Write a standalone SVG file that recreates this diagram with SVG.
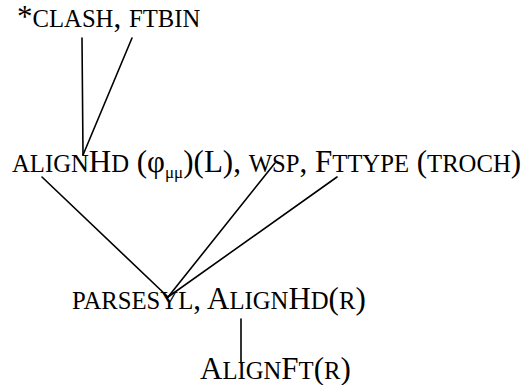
<svg xmlns="http://www.w3.org/2000/svg" width="528" height="385" viewBox="0 0 528 385">
<style>
text{font-family:"Liberation Serif","Times New Roman",serif;fill:#000;font-size:31px}
.s{font-size:24.7px}
.sub{font-size:17px}
.edge{stroke:#000;stroke-width:1.6;fill:none;stroke-linecap:round}
</style>
<rect width="528" height="385" fill="#fff"/>
<g id="connectors">
<line class="edge" x1="82" y1="38" x2="83" y2="155"/>
<line class="edge" x1="132" y1="38" x2="83" y2="155"/>
<line class="edge" x1="42" y1="177" x2="168" y2="297"/>
<line class="edge" x1="275" y1="163" x2="168" y2="297"/>
<line class="edge" x1="337" y1="177" x2="168" y2="297"/>
<line class="edge" x1="241" y1="319" x2="241" y2="363"/>
</g>
<g id="n1"><text x="17" y="27"><tspan>*</tspan><tspan class="s">CLASH</tspan>, <tspan class="s">FTBIN</tspan></text></g>
<g id="n2"><text x="12" y="172"><tspan class="s">ALIGN</tspan>H<tspan class="s">D</tspan> (φ<tspan class="sub" dy="6">μμ</tspan><tspan dy="-6">)(L), </tspan><tspan class="s">WSP</tspan>, F<tspan class="s">TTYPE</tspan> (<tspan class="s">TROCH</tspan>)</text></g>
<g id="n3"><text x="72" y="309"><tspan class="s">PARSESYL</tspan>, A<tspan class="s">LIGN</tspan>H<tspan class="s">D</tspan>(<tspan class="s">R</tspan>)</text></g>
<g id="n4"><text x="200" y="379">A<tspan class="s">LIGN</tspan>F<tspan class="s">T</tspan>(<tspan class="s">R</tspan>)</text></g>
</svg>
